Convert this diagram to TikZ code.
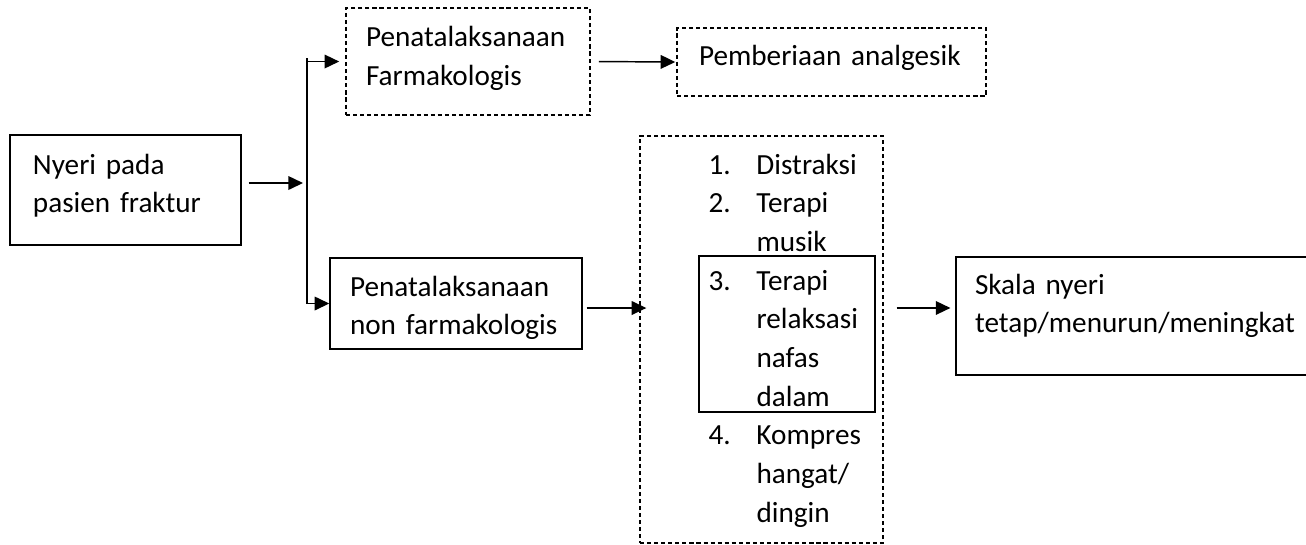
\documentclass[tikz,border=0pt]{standalone}
\usepackage{fontspec}
\setmainfont{Carlito}
\usepackage{tikz}
\usetikzlibrary{arrows.meta,positioning}
\tikzset{every node/.append style={font=\fontsize{12}{15.8}\selectfont}}
% invisible rules that move a node's text up (deeper last line) or down (taller first line)
\newcommand\lowedge[1]{\rule[-#1]{0pt}{#1}}
\newcommand\topedge[1]{\rule{0pt}{#1}}

\begin{document}
\begin{tikzpicture}[x=0.411pt,y=-0.411pt,
  b/.style={draw,line width=0.6pt,align=left,inner ysep=0pt,inner xsep=8.22pt},
  bd/.style={b,dash pattern=on 1.7pt off 1.2pt},
  ar/.style={-{Triangle[length=6pt,width=5.6pt]},line width=0.6pt}]
\useasboundingbox (0,0) rectangle (1306,544);
\clip (0,0) rectangle (1306,544);
% boxes
\node[b,inner xsep=9.45pt,text width=76.04pt,minimum height=45.21pt] (nyeri) at (125.5,190) {Nyeri pada\\pasien fraktur\lowedge{5.5pt}};
\node[bd,text width=83.84pt,minimum height=43.98pt] (farm) at (468,61.5) {Penatalaksanaan\\Farmakologis\lowedge{4.5pt}};
\node[bd,inner xsep=9.04pt,text width=108.92pt,minimum height=27.95pt] (anal) at (831.5,62) {Pemberiaan analgesik\lowedge{5.3pt}};
\node[b,text width=87.13pt,minimum height=37.4pt] (nonf) at (456,303.5) {\topedge{11.8pt}Penatalaksanaan\\non farmakologis};
\node[bd,minimum width=99.87pt,minimum height=167.28pt] (lstbox) at (761.5,339.5) {};
\node[b,minimum width=72.34pt,minimum height=64.12pt] (r3) at (787,334) {};
\node[anchor=north west,inner sep=0pt,font=\fontsize{12}{15.9}\selectfont] (lst) at (708,146.5) {%
  \begin{tabular}{@{}p{19.73pt}@{}l@{}}
  1.&Distraksi\\
  2.&Terapi\\
    &musik\\
  3.&Terapi\\
    &relaksasi\\
    &nafas\\
    &dalam\\
  4.&Kompres\\
    &hangat/\\
    &dingin
  \end{tabular}};
\node[b,inner xsep=7.81pt,text width=138.09pt,minimum height=48.5pt] (skala) at (1143,316) {Skala nyeri\\tetap/menurun/meningkat\lowedge{10.3pt}};
% connectors
\coordinate (jt) at (307,58);
\coordinate (jb) at (307,303.5);
\coordinate (ja) at (303,183);
\draw[line width=0.6pt] (jt) -- (jb);
\draw[ar] ([shift={(7,-7)}]nyeri.east) -- (ja);
\draw[ar,shorten >=2.5pt] (jt |- farm.west) -- (farm.west);
\draw[ar] (jb |- nonf.west) -- (nonf.west);
\draw[ar,shorten <=3.3pt,shorten >=0.4pt] (farm.east) -- (anal.west);
\draw[ar] ([shift={(4,4.5)}]nonf.east) coordinate (s) -- ([xshift=2.9pt]s -| lstbox.west);
\coordinate (t) at ([yshift=3.3pt]skala.west);
\draw[ar,shorten <=5.3pt,shorten >=2pt] (lstbox.east |- t) -- (t);
\end{tikzpicture}
\end{document}
